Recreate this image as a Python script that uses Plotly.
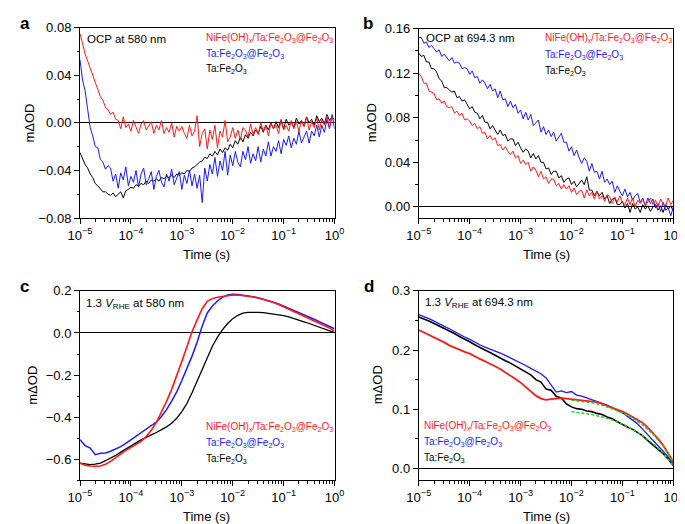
import plotly.graph_objects as go
from plotly.subplots import make_subplots

W, H = 685, 524

t_fine = [
    -5.0, -4.95, -4.9, -4.85, -4.8, -4.75, -4.7, -4.65, -4.6, -4.55,
    -4.5, -4.45, -4.4, -4.35, -4.3, -4.25, -4.2, -4.15, -4.1, -4.05,
    -4.0, -3.95, -3.9, -3.85, -3.8, -3.75, -3.7, -3.65, -3.6, -3.55,
    -3.5, -3.45, -3.4, -3.35, -3.3, -3.25, -3.2, -3.15, -3.1, -3.05,
    -3.0, -2.95, -2.9, -2.85, -2.8, -2.75, -2.7, -2.65, -2.6, -2.55,
    -2.5, -2.45, -2.4, -2.35, -2.3, -2.25, -2.2, -2.15, -2.1, -2.05,
    -2.0, -1.95, -1.9, -1.85, -1.8, -1.75, -1.7, -1.65, -1.6, -1.55,
    -1.5, -1.45, -1.4, -1.35, -1.3, -1.25, -1.2, -1.15, -1.1, -1.05,
    -1.0, -0.95, -0.9, -0.85, -0.8, -0.75, -0.7, -0.65, -0.6, -0.55,
    -0.5, -0.45, -0.4, -0.35, -0.3, -0.25, -0.2, -0.15, -0.1, -0.05,
    0.0,
]
t_coarse = [
    -5.0, -4.9, -4.8, -4.7, -4.6, -4.5, -4.4, -4.3, -4.2, -4.1,
    -4.0, -3.9, -3.8, -3.7, -3.6, -3.5, -3.4, -3.3, -3.2, -3.1,
    -3.0, -2.9, -2.8, -2.7, -2.6, -2.5, -2.4, -2.3, -2.2, -2.1,
    -2.0, -1.9, -1.8, -1.7, -1.6, -1.5, -1.4, -1.3, -1.2, -1.1,
    -1.0, -0.9, -0.8, -0.7, -0.6, -0.5, -0.4, -0.3, -0.2, -0.1,
    0.0,
]
t_fit = [-2.0, -1.8, -1.6, -1.4, -1.2, -1.0, -0.8, -0.6, -0.4, -0.2, 0.0]

# panel a: OCP at 580 nm
a_nife = [
    0.075, 0.066, 0.058, 0.052, 0.046, 0.041, 0.034, 0.029, 0.022, 0.019,
    0.013, 0.011, 0.007, 0.009, 0.003, 0.002, -0.005, 0.005, -0.004, -0.001,
    -0.007, 0.002, -0.004, -0.009, -0.001, 0.002, -0.006, -0.003, 0.001, -0.009,
    -0.002, -0.006, 0.002, -0.009, -0.004, -0.008, 0.000, -0.012, -0.003, -0.007,
    -0.003, -0.009, -0.013, -0.002, -0.011, -0.007, 0.006, -0.020, -0.009, -0.005,
    -0.022, -0.006, -0.014, -0.002, -0.021, -0.007, -0.012, 0.002, -0.016, -0.012,
    -0.004, -0.013, -0.006, -0.014, -0.004, -0.006, -0.012, -0.001, -0.010, -0.004,
    -0.010, 0.000, -0.007, -0.002, -0.011, 0.000, -0.005, -0.002, -0.009, 0.003,
    -0.006, -0.002, -0.007, 0.002, -0.005, 0.001, -0.007, 0.002, -0.003, 0.005,
    -0.006, 0.001, -0.004, 0.004, -0.006, 0.003, -0.002, 0.006, -0.004, 0.005,
    0.000,
]
a_tafe_fe = [
    0.053, 0.036, 0.027, 0.010, -0.004, -0.011, -0.020, -0.021, -0.031, -0.033,
    -0.039, -0.036, -0.038, -0.049, -0.043, -0.055, -0.042, -0.048, -0.037, -0.053,
    -0.045, -0.050, -0.040, -0.054, -0.043, -0.038, -0.052, -0.047, -0.041, -0.056,
    -0.045, -0.040, -0.050, -0.054, -0.043, -0.049, -0.039, -0.052, -0.047, -0.041,
    -0.056, -0.044, -0.051, -0.040, -0.053, -0.043, -0.055, -0.044, -0.067, -0.038,
    -0.049, -0.035, -0.043, -0.029, -0.045, -0.032, -0.040, -0.024, -0.044, -0.027,
    -0.036, -0.024, -0.033, -0.037, -0.024, -0.031, -0.020, -0.034, -0.026, -0.032,
    -0.020, -0.033, -0.022, -0.028, -0.016, -0.028, -0.020, -0.024, -0.015, -0.026,
    -0.014, -0.019, -0.011, -0.021, -0.013, -0.018, -0.007, -0.017, -0.012, -0.007,
    -0.017, -0.007, -0.011, -0.002, -0.012, -0.002, -0.008, 0.003, -0.005, 0.007,
    -0.005,
]
a_tafe = [
    -0.025, -0.030, -0.035, -0.038, -0.043, -0.046, -0.051, -0.053, -0.056, -0.058,
    -0.058, -0.060, -0.061, -0.059, -0.062, -0.060, -0.058, -0.063, -0.057, -0.056,
    -0.054, -0.055, -0.052, -0.053, -0.051, -0.052, -0.049, -0.051, -0.048, -0.049,
    -0.047, -0.049, -0.046, -0.047, -0.045, -0.046, -0.044, -0.046, -0.043, -0.044,
    -0.042, -0.043, -0.040, -0.041, -0.038, -0.037, -0.035, -0.033, -0.032, -0.029,
    -0.030, -0.026, -0.028, -0.024, -0.027, -0.022, -0.025, -0.021, -0.023, -0.018,
    -0.021, -0.015, -0.018, -0.012, -0.016, -0.010, -0.013, -0.008, -0.011, -0.006,
    -0.009, -0.003, -0.008, -0.002, -0.006, 0.000, -0.005, 0.001, -0.004, 0.002,
    -0.005, 0.003, -0.002, 0.001, -0.004, 0.004, -0.001, 0.002, -0.003, 0.005,
    0.000, 0.003, -0.002, 0.006, 0.001, 0.004, -0.001, 0.007, 0.002, 0.005,
    0.003,
]

# panel b: OCP at 694.3 nm
b_nife = [
    0.120, 0.117, 0.111, 0.111, 0.104, 0.103, 0.102, 0.096, 0.097, 0.093,
    0.095, 0.090, 0.089, 0.090, 0.084, 0.086, 0.082, 0.084, 0.078, 0.079,
    0.077, 0.073, 0.075, 0.070, 0.072, 0.066, 0.067, 0.061, 0.064, 0.060,
    0.062, 0.055, 0.056, 0.051, 0.054, 0.050, 0.047, 0.050, 0.044, 0.046,
    0.039, 0.042, 0.038, 0.040, 0.032, 0.036, 0.033, 0.027, 0.032, 0.025,
    0.027, 0.021, 0.025, 0.025, 0.019, 0.021, 0.016, 0.020, 0.016, 0.019,
    0.013, 0.017, 0.011, 0.014, 0.015, 0.008, 0.015, 0.010, 0.013, 0.007,
    0.014, 0.007, 0.010, 0.005, 0.011, 0.009, 0.003, 0.009, 0.004, 0.010,
    0.004, 0.002, 0.008, 0.002, 0.008, 0.000, 0.006, 0.003, 0.007, 0.001,
    0.005, 0.008, 0.002, 0.006, 0.000, 0.007, 0.003, 0.001, 0.008, 0.002,
    0.006,
]
b_tafe_fe = [
    0.152, 0.152, 0.147, 0.148, 0.143, 0.145, 0.142, 0.139, 0.141, 0.135,
    0.137, 0.134, 0.131, 0.134, 0.129, 0.130, 0.129, 0.124, 0.125, 0.124,
    0.119, 0.122, 0.116, 0.117, 0.111, 0.114, 0.111, 0.106, 0.110, 0.104,
    0.106, 0.098, 0.104, 0.096, 0.097, 0.090, 0.095, 0.089, 0.092, 0.084,
    0.087, 0.079, 0.085, 0.078, 0.083, 0.073, 0.076, 0.078, 0.067, 0.072,
    0.065, 0.069, 0.063, 0.067, 0.059, 0.063, 0.066, 0.058, 0.058, 0.050,
    0.054, 0.046, 0.051, 0.044, 0.039, 0.044, 0.041, 0.032, 0.039, 0.031,
    0.032, 0.025, 0.032, 0.022, 0.025, 0.020, 0.023, 0.013, 0.019, 0.014,
    0.010, 0.016, 0.009, 0.013, 0.006, 0.010, 0.012, 0.004, 0.008, 0.001,
    0.008, 0.003, 0.007, -0.001, 0.003, -0.004, 0.004, -0.003, -0.001, -0.008,
    0.000,
]
b_tafe = [
    0.138, 0.135, 0.136, 0.130, 0.130, 0.124, 0.124, 0.121, 0.115, 0.113,
    0.107, 0.107, 0.105, 0.103, 0.104, 0.098, 0.099, 0.095, 0.096, 0.092,
    0.088, 0.090, 0.085, 0.084, 0.079, 0.082, 0.076, 0.076, 0.070, 0.073,
    0.069, 0.065, 0.069, 0.064, 0.065, 0.059, 0.061, 0.061, 0.055, 0.058,
    0.053, 0.049, 0.052, 0.050, 0.044, 0.048, 0.043, 0.046, 0.040, 0.040,
    0.034, 0.035, 0.029, 0.032, 0.032, 0.026, 0.028, 0.022, 0.025, 0.026,
    0.020, 0.023, 0.018, 0.021, 0.024, 0.020, 0.027, 0.015, 0.015, 0.010,
    0.014, 0.010, 0.013, 0.007, 0.010, 0.003, 0.007, 0.008, 0.002, 0.002,
    0.005, -0.001, 0.003, -0.005, 0.003, -0.002, 0.000, -0.005, 0.002, -0.002,
    0.001, -0.004, 0.000, 0.002, -0.003, 0.001, -0.005, 0.002, -0.002, 0.001,
    -0.004,
]

# panel c: 1.3 V_RHE at 580 nm
c_nife = [
    -0.618, -0.628, -0.632, -0.634, -0.632, -0.624, -0.610, -0.592, -0.575, -0.558,
    -0.545, -0.532, -0.515, -0.492, -0.462, -0.425, -0.378, -0.325, -0.268, -0.205,
    -0.135, -0.065, 0.005, 0.062, 0.115, 0.150, 0.163, 0.170, 0.174, 0.178,
    0.180, 0.180, 0.178, 0.175, 0.171, 0.166, 0.160, 0.153, 0.145, 0.135,
    0.124, 0.113, 0.102, 0.091, 0.080, 0.070, 0.060, 0.049, 0.038, 0.024,
    0.008,
]
c_tafe_fe = [
    -0.507, -0.535, -0.547, -0.578, -0.572, -0.570, -0.562, -0.552, -0.540, -0.525,
    -0.508, -0.492, -0.476, -0.460, -0.443, -0.423, -0.397, -0.364, -0.324, -0.280,
    -0.226, -0.170, -0.110, -0.044, 0.033, 0.095, 0.128, 0.152, 0.170, 0.180,
    0.184, 0.183, 0.180, 0.176, 0.172, 0.167, 0.161, 0.154, 0.146, 0.138,
    0.128, 0.118, 0.108, 0.098, 0.088, 0.077, 0.065, 0.054, 0.043, 0.031,
    0.020,
]
c_tafe = [
    -0.619, -0.624, -0.626, -0.623, -0.618, -0.607, -0.595, -0.582, -0.566, -0.550,
    -0.536, -0.522, -0.508, -0.494, -0.484, -0.473, -0.461, -0.446, -0.429, -0.405,
    -0.374, -0.335, -0.284, -0.228, -0.175, -0.120, -0.063, -0.020, 0.016, 0.045,
    0.068, 0.084, 0.094, 0.098, 0.099, 0.098, 0.097, 0.094, 0.091, 0.087,
    0.082, 0.077, 0.070, 0.062, 0.053, 0.045, 0.037, 0.029, 0.020, 0.011,
    0.002,
]

# panel d: 1.3 V_RHE at 694.3 nm
d_nife = [
    0.234, 0.230, 0.225, 0.221, 0.217, 0.213, 0.208, 0.204, 0.200, 0.197,
    0.194, 0.189, 0.185, 0.181, 0.177, 0.172, 0.168, 0.162, 0.157, 0.151,
    0.145, 0.138, 0.130, 0.123, 0.118, 0.116, 0.117, 0.118, 0.119, 0.118,
    0.117, 0.116, 0.116, 0.115, 0.114, 0.112, 0.109, 0.106, 0.103, 0.099,
    0.096, 0.092, 0.087, 0.082, 0.077, 0.069, 0.060, 0.050, 0.039, 0.026,
    0.011,
]
d_tafe_fe = [
    0.260, 0.257, 0.253, 0.249, 0.244, 0.240, 0.236, 0.231, 0.226, 0.222,
    0.218, 0.213, 0.209, 0.205, 0.202, 0.199, 0.195, 0.191, 0.187, 0.182,
    0.178, 0.174, 0.169, 0.165, 0.160, 0.153, 0.140, 0.129, 0.131, 0.128,
    0.130, 0.124, 0.122, 0.119, 0.117, 0.114, 0.111, 0.107, 0.103, 0.099,
    0.094, 0.088, 0.082, 0.075, 0.066, 0.057, 0.048, 0.038, 0.029, 0.019,
    0.009,
]
d_tafe = [
    0.256, 0.253, 0.249, 0.245, 0.241, 0.237, 0.232, 0.228, 0.223, 0.219,
    0.214, 0.209, 0.204, 0.200, 0.196, 0.191, 0.187, 0.182, 0.178, 0.173,
    0.168, 0.163, 0.158, 0.150, 0.146, 0.134, 0.132, 0.122, 0.119, 0.109,
    0.104, 0.101, 0.100, 0.097, 0.096, 0.093, 0.091, 0.087, 0.084, 0.079,
    0.074, 0.070, 0.066, 0.061, 0.055, 0.047, 0.040, 0.033, 0.025, 0.016,
    0.005,
]
d_fit_top = [0.115, 0.113, 0.111, 0.107, 0.101, 0.094, 0.085, 0.073, 0.058, 0.038, 0.010]
d_fit_low = [0.096, 0.094, 0.091, 0.087, 0.082, 0.075, 0.066, 0.055, 0.042, 0.026, 0.005]

RED, BLUE, BLACK, GREEN = "#ff1a1a", "#1a1aff", "#000000", "#22cc22"
FONT = "Arial, Liberation Sans, Helvetica, sans-serif"

LBL_NIFE = "NiFe(OH)<sub><i>x</i></sub>/Ta:Fe<sub>2</sub>O<sub>3</sub>@Fe<sub>2</sub>O<sub>3</sub>"
LBL_TAFE_FE = "Ta:Fe<sub>2</sub>O<sub>3</sub>@Fe<sub>2</sub>O<sub>3</sub>"
LBL_TAFE = "Ta:Fe<sub>2</sub>O<sub>3</sub>"


def secs(exps):
    return [10 ** e for e in exps]


def px(x):
    return x / W


def py(y):
    return 1 - y / H


fig = make_subplots(rows=2, cols=2)

panels = [
    (1, 1, t_fine, [a_tafe, a_tafe_fe, a_nife], [1, 1, 1]),
    (1, 2, t_fine, [b_tafe, b_tafe_fe, b_nife], [1, 1, 1]),
    (2, 1, t_coarse, [c_tafe, c_tafe_fe, c_nife], [1.3, 1.5, 1.6]),
    (2, 2, t_coarse, [d_tafe, d_tafe_fe, d_nife], [1.6, 1.3, 1.8]),
]
for row, col, t, series, widths in panels:
    for ys, color, w in zip(series, [BLACK, BLUE, RED], widths):
        fig.add_trace(
            go.Scatter(x=secs(t), y=ys, mode="lines",
                       line=dict(color=color, width=w), showlegend=False),
            row=row, col=col,
        )

# fitted curves in panel d, drawn over the data
for ys in [d_fit_top, d_fit_low]:
    fig.add_trace(
        go.Scatter(x=secs(t_fit), y=ys, mode="lines",
                   line=dict(color=GREEN, width=1.4, dash="3px,2px"), showlegend=False),
        row=2, col=2,
    )

# axis boxes in pixels: (left, right, top, bottom)
boxes = {
    1: (62, 325, 13, 209),
    2: (412, 675, 14, 209),
    3: (62, 325, 284, 479),
    4: (412, 675, 284, 479),
}
yspec = {
    1: dict(range=[-0.08, 0.08], dtick=0.04, tickformat=".2f", minor=0.02),
    2: dict(range=[-0.01, 0.16], dtick=0.04, tickformat=".2f", minor=0.02),
    3: dict(range=[-0.7, 0.2], dtick=0.2, tickformat=".1f", minor=0.1),
    4: dict(range=[-0.02, 0.3], dtick=0.1, tickformat=".1f", minor=0.05),
}

minor_x = [m * 10 ** k for k in range(-5, 0) for m in range(2, 10)]
xticks = [1e-5, 1e-4, 1e-3, 1e-2, 1e-1, 1]
xtext = ["10<sup>\u22125</sup>", "10<sup>\u22124</sup>", "10<sup>\u22123</sup>",
         "10<sup>\u22122</sup>", "10<sup>\u22121</sup>", "10<sup>0</sup>"]

for i in range(1, 5):
    l, r, t, b = boxes[i]
    sfx = "" if i == 1 else str(i)
    fig.layout["xaxis" + sfx].update(
        domain=[px(l), px(r)], type="log", range=[-5, 0],
        tickvals=xticks, ticktext=xtext, ticklabeloverflow="allow",
        showline=True, linecolor="black", linewidth=1, mirror=True,
        ticks="outside", ticklen=5, tickcolor="black", showgrid=False,
        tickfont=dict(size=13, color="black", family=FONT),
        minor=dict(tickvals=minor_x, ticks="outside", ticklen=2.5, tickcolor="black", showgrid=False),
    )
    s = yspec[i]
    fig.layout["yaxis" + sfx].update(
        domain=[py(b), py(t)], range=s["range"], dtick=s["dtick"], tick0=0,
        tickformat=s["tickformat"],
        showline=True, linecolor="black", linewidth=1, mirror=True,
        ticks="outside", ticklen=5, tickcolor="black", showgrid=False,
        zeroline=True, zerolinecolor="black", zerolinewidth=1,
        tickfont=dict(size=13, color="black", family=FONT),
        minor=dict(dtick=s["minor"], ticks="outside", ticklen=2.5, tickcolor="black", showgrid=False),
    )

ann = []


def text(x, y, s, size=11, color="black", anchor="left", angle=0, bold=False):
    if bold:
        s = "<b>" + s + "</b>"
    ann.append(dict(x=px(x), y=py(y), xref="paper", yref="paper", text=s,
                    showarrow=False, xanchor=anchor, yanchor="middle", textangle=angle,
                    font=dict(size=size, color=color, family=FONT)))


# panel letters
text(5, 9, "a", size=17, anchor="center", bold=True)
text(360, 9, "b", size=17, anchor="center", bold=True)
text(5, 280, "c", size=17, anchor="center", bold=True)
text(361, 280, "d", size=17, anchor="center", bold=True)

# y titles
text(10, 111, "m\u0394OD", size=13, anchor="center", angle=-90)
text(364, 111, "m\u0394OD", size=13, anchor="center", angle=-90)
text(12, 381, "m\u0394OD", size=13, anchor="center", angle=-90)
text(369, 381, "m\u0394OD", size=13, anchor="center", angle=-90)

# x titles
for cx, cy in [(193, 247), (544, 247), (193, 516), (544, 516)]:
    text(cx, cy, "Time (s)", size=13, anchor="center")

# conditions
text(67, 25, "OCP at 580 nm", size=11.5)
text(417, 24, "OCP at 694.3 nm", size=11.5)
text(66, 298, "1.3 <i>V</i><sub>RHE</sub> at 580 nm", size=11.5)
text(416, 296, "1.3 <i>V</i><sub>RHE</sub> at 694.3 nm", size=11.5)

# sample labels
for x0, ys in [(190, (24, 40, 56)), (540, (24, 41, 58)), (190, (424, 441, 457)), (415, (423, 440, 456))]:
    text(x0, ys[0], LBL_NIFE, size=10, color=RED)
    text(x0, ys[1], LBL_TAFE_FE, size=10, color=BLUE)
    text(x0, ys[2], LBL_TAFE, size=10, color=BLACK)

fig.update_layout(
    width=W, height=H,
    margin=dict(l=0, r=0, t=0, b=0),
    paper_bgcolor="white", plot_bgcolor="white",
    font=dict(family=FONT, color="black"),
    annotations=ann,
    showlegend=False,
)

fig.write_html("out.html")
